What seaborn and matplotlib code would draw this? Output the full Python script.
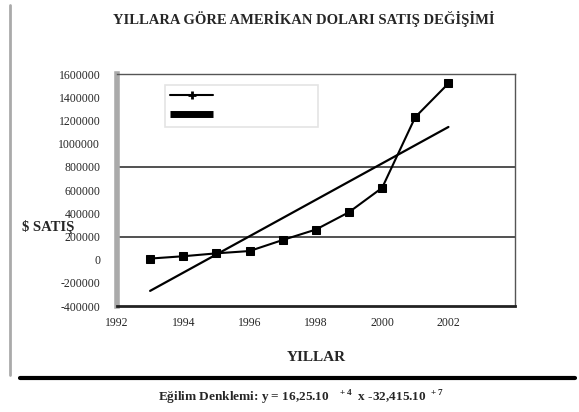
import numpy as np
import pandas as pd
import seaborn as sns
import matplotlib.pyplot as plt
from matplotlib.lines import Line2D

# yearly sales values
years = [1993, 1994, 1995, 1996, 1997, 1998, 1999, 2000, 2001, 2002]
sales = [10000, 30000, 55000, 75000, 170000, 260000, 410000, 620000, 1230000, 1520000]

y_ticks = list(range(-400000, 1600001, 200000))
x_ticks = [1992, 1994, 1996, 1998, 2000, 2002, 2004]
x_labels = ['1992', '1994', '1996', '1998', '2000', '2002', '']
grid_values = [200000, 800000]

data = pd.DataFrame({'Yil': years, 'Satis': sales})

sns.set_style('white')
plt.rcParams['font.family'] = ['Liberation Serif', 'DejaVu Serif']
plt.rcParams['mathtext.fontset'] = 'custom'
plt.rcParams['mathtext.rm'] = 'Liberation Serif:bold'
plt.rcParams['mathtext.bf'] = 'Liberation Serif:bold'

fig = plt.figure(figsize=(5.79, 4.12), dpi=100)
ax = fig.add_axes([0.202, 0.257, 0.687, 0.563])

for g in grid_values:
    ax.axhline(g, color='#333333', lw=1.2, zorder=1)

sns.lineplot(data=data, x='Yil', y='Satis', ax=ax, color='black', lw=1.5,
             marker='s', markersize=5.5, markeredgecolor='black', zorder=3)
sns.regplot(data=data, x='Yil', y='Satis', ax=ax, scatter=False, ci=None,
            line_kws={'color': 'black', 'lw': 1.6, 'zorder': 3})

ax.set_xlim(1992, 2004)
ax.set_ylim(-400000, 1600000)
ax.set_xticks(x_ticks)
ax.set_xticklabels(x_labels, fontsize=8.5)
ax.set_yticks(y_ticks)
ax.set_yticklabels([str(v) for v in y_ticks], fontsize=8.5)
ax.tick_params(axis='x', length=3, color='#888888', pad=5)
ax.tick_params(axis='y', length=0, pad=12)

for side in ['top', 'right']:
    ax.spines[side].set_color('#555555')
    ax.spines[side].set_linewidth(1)
ax.spines['left'].set_color('#aaaaaa')
ax.spines['left'].set_linewidth(4)
ax.spines['bottom'].set_color('#222222')
ax.spines['bottom'].set_linewidth(2)

ax.set_xlabel('YILLAR', fontsize=11, fontweight='bold', labelpad=16)
ax.set_ylabel('')
fig.text(0.038, 0.449, '$ SATIŞ', fontsize=10.5, fontweight='bold', va='center')

handles = [Line2D([], [], color='black', lw=1.5, marker='+', markersize=6, mew=2),
           Line2D([], [], color='black', lw=5, solid_capstyle='butt')]
leg = ax.legend(handles, [' ', ' '], loc='upper left',
                bbox_to_anchor=(0.12, 0.767, 0.385, 0.186), mode='expand',
                frameon=True, fancybox=False, handlelength=3.5, fontsize=9,
                borderaxespad=0, labelspacing=0.6)
leg.get_frame().set_edgecolor('#dddddd')
leg.get_frame().set_linewidth(1.2)

fig.text(0.525, 0.955, 'YILLARA GÖRE AMERİKAN DOLARI SATIŞ DEĞİŞİMİ',
         ha='center', va='center', fontsize=10.5, fontweight='bold')

# outer chart area border (left grey, bottom black)
fig.add_artist(Line2D([0.017, 0.017], [0.988, 0.09], color='#aaaaaa', lw=2))
fig.add_artist(Line2D([0.035, 0.993], [0.083, 0.083], color='black', lw=3))

fig.text(0.52, 0.034,
         r'Eğilim Denklemi: y = 16,25.10$^{\ \ \ +4}$  x -32,415.10$^{\ +7}$',
         ha='center', va='center', fontsize=9.5, fontweight='bold')

fig.savefig('out.png', dpi=100)
